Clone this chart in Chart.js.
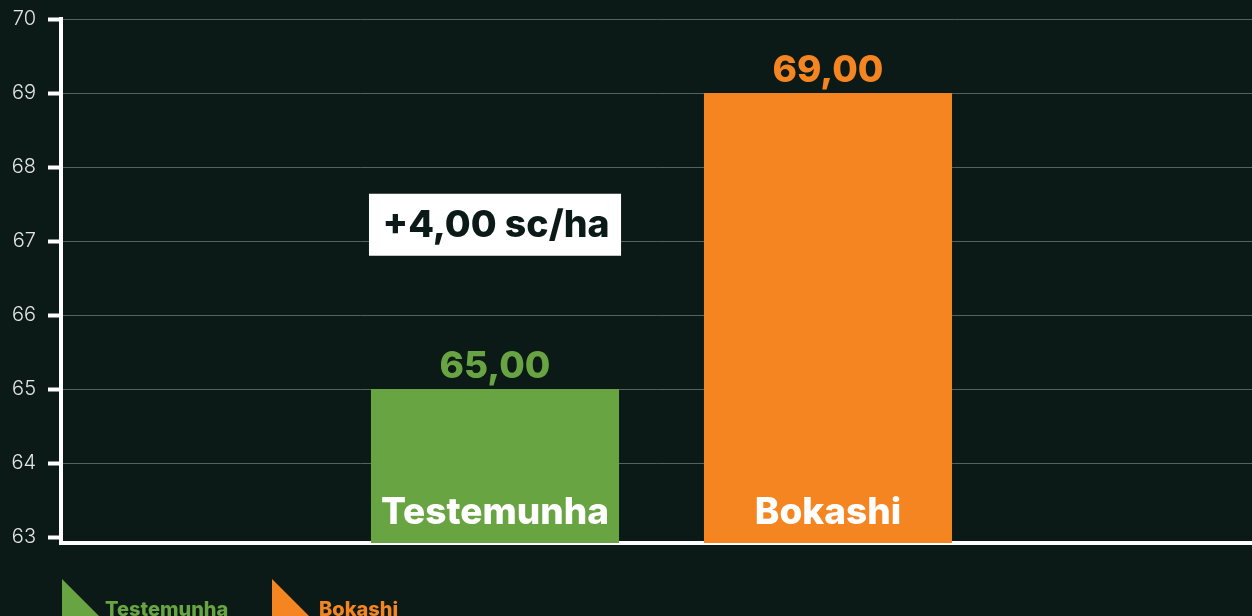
<!DOCTYPE html>
<html><head><meta charset="utf-8">
<script src="https://cdn.jsdelivr.net/npm/chart.js@4/dist/chart.umd.min.js"></script>
<style>html,body{margin:0;padding:0;background:#0c1a17;}#wrap{width:1252px;height:616px;}</style>
</head><body><div id="wrap"><canvas id="c" width="1252" height="616"></canvas></div>
<script>
const categories = [''];
const seriesNames = ['Testemunha', 'Bokashi'];
const testemunhaValues = [65];
const bokashiValues = [69];
const seriesColors = ['#69a443', '#f58521'];
const yTicks = [63, 64, 65, 66, 67, 68, 69, 70];
const yMin = 62.92, yMax = 70;
const FONT = 'Inter, "Noto Sans", sans-serif';
const fmt = v => v.toFixed(2).replace('.', ',');

const shiftPlugin = {
  id: 'shift',
  afterLayout(chart) {
    const x = chart.scales.x;
    x.right += 10;
    x.width += 10;
    x.configure();
  }
};

const labelsPlugin = {
  id: 'labels',
  afterDatasetsDraw(chart) {
    const ctx = chart.ctx;
    const y = chart.scales.y;
    const area = chart.chartArea;
    ctx.save();
    chart.data.datasets.forEach((ds, i) => {
      const bar = chart.getDatasetMeta(i).data[0];
      ctx.textAlign = 'center';
      ctx.textBaseline = 'alphabetic';
      ctx.font = '800 37px ' + FONT;
      ctx.fillStyle = ds.backgroundColor;
      ctx.fillText(fmt(ds.data[0]), bar.x, bar.y - 11);
      ctx.fillStyle = '#ffffff';
      ctx.fillText(ds.label, bar.x, area.bottom - 19);
    });
    // difference box
    const b0 = chart.getDatasetMeta(0).data[0];
    const diff = bokashiValues[0] - testemunhaValues[0];
    const cy = y.getPixelForValue(67.22);
    const w = b0.width + 4, h = 62;
    ctx.fillStyle = '#ffffff';
    ctx.fillRect(b0.x - w / 2, cy - h / 2, w, h);
    ctx.fillStyle = '#0c1a17';
    ctx.textBaseline = 'middle';
    ctx.font = '800 37.5px ' + FONT;
    ctx.fillText('+' + fmt(diff) + ' sc/ha', b0.x + 1, cy + 1);
    // legend
    const legendX = [62, 272];
    const legendTextX = [105, 319];
    chart.data.datasets.forEach((ds, i) => {
      const lx = legendX[i];
      ctx.fillStyle = ds.backgroundColor;
      ctx.beginPath();
      ctx.moveTo(lx, 579);
      ctx.lineTo(lx, 620);
      ctx.lineTo(lx + 41, 620);
      ctx.closePath();
      ctx.fill();
      ctx.textAlign = 'left';
      ctx.textBaseline = 'alphabetic';
      ctx.font = '800 20px ' + FONT;
      ctx.fillText(ds.label, legendTextX[i], 616);
    });
    ctx.restore();
  }
};

new Chart(document.getElementById('c'), {
  type: 'bar',
  data: {
    labels: categories,
    datasets: [
      { label: seriesNames[0], data: testemunhaValues, backgroundColor: seriesColors[0] },
      { label: seriesNames[1], data: bokashiValues, backgroundColor: seriesColors[1] }
    ]
  },
  options: {
    responsive: false,
    animation: false,
    devicePixelRatio: 1,
    categoryPercentage: 0.5545,
    barPercentage: 0.745,
    layout: { padding: { top: 19, bottom: 73, left: 0, right: 0 } },
    plugins: { legend: { display: false }, tooltip: { enabled: false } },
    scales: {
      x: {
        grid: { display: false, drawTicks: false },
        ticks: { display: false },
        border: { color: '#ffffff', width: 4 },
        afterFit(s) { s.height = 0; }
      },
      y: {
        min: yMin, max: yMax,
        afterBuildTicks(s) { s.ticks = yTicks.map(v => ({ value: v })); },
        grid: {
          color: c => (c.tick && c.tick.value === yTicks[0]) ? 'rgba(0,0,0,0)' : '#56625f',
          lineWidth: 1, tickColor: '#ffffff', tickWidth: 4, tickLength: 13
        },
        border: { color: '#ffffff', width: 4 },
        ticks: { color: '#e4e6e5', font: { family: FONT, size: 20, weight: 300 }, padding: 12 },
        afterFit(s) { s.width = 61; s.paddingTop = 0; s.paddingBottom = 0; }
      }
    }
  },
  plugins: [shiftPlugin, labelsPlugin]
});
</script></body></html>
